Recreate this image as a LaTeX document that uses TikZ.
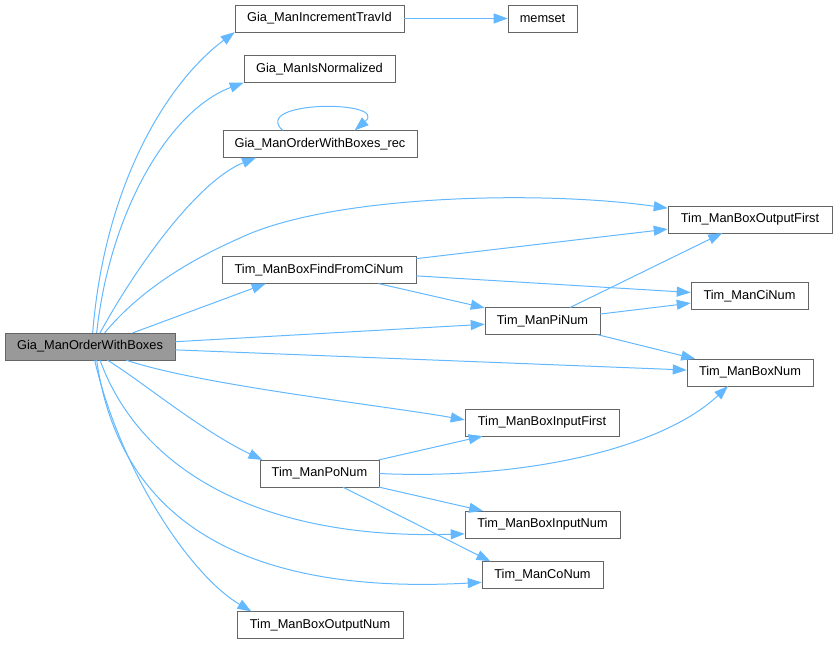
\documentclass[tikz,border=0pt]{standalone}
\usepackage{fontspec}
\setmainfont{Liberation Sans}
\usetikzlibrary{arrows.meta}
\definecolor{edgeblue}{RGB}{99,184,255}
\definecolor{boxgray}{RGB}{102,102,102}
\definecolor{mainfill}{RGB}{153,153,153}

\begin{document}
\begin{tikzpicture}[x=0.75pt,y=-0.75pt,
   fn/.style={draw=boxgray,fill=white,minimum height=20pt,inner sep=0pt,
     font=\fontsize{9.6}{11}\selectfont},
   call/.style={draw=edgeblue,line width=0.75pt,-{Triangle[length=10.5pt,width=7.5pt]}}]
   \useasboundingbox (0,0) rectangle (837,644);
   % caller
   \node[fn,fill=mainfill,minimum width=127.5pt] (main) at (90,346.5) {Gia\_ManOrderWithBoxes};
   % first column
   \node[fn,minimum width=126.75pt] (incr) at (319.5,18.5) {Gia\_ManIncrementTravId};
   \node[fn,minimum width=113.25pt] (isnorm) at (319.5,69) {Gia\_ManIsNormalized};
   \node[fn,minimum width=145.5pt] (rec) at (320,144) {Gia\_ManOrderWithBoxes\_rec};
   \node[fn,minimum width=145.5pt] (find) at (319,270) {Tim\_ManBoxFindFromCiNum};
   \node[fn,minimum width=89.25pt] (ponum) at (319.5,473.5) {Tim\_ManPoNum};
   \node[fn,minimum width=124.5pt] (outnum) at (320,625) {Tim\_ManBoxOutputNum};
   % second column
   \node[fn,minimum width=51.75pt] (memset) at (542.5,18.5) {memset};
   \node[fn,minimum width=86.25pt] (pinum) at (542.5,321) {Tim\_ManPiNum};
   \node[fn,minimum width=115.5pt] (infirst) at (542,422.5) {Tim\_ManBoxInputFirst};
   \node[fn,minimum width=116.25pt] (innum) at (542.5,524.5) {Tim\_ManBoxInputNum};
   \node[fn,minimum width=90.75pt] (conum) at (542.5,575) {Tim\_ManCoNum};
   % third column
   \node[fn,minimum width=123pt] (outfirst) at (750,219.5) {Tim\_ManBoxOutputFirst};
   \node[fn,minimum width=87.75pt] (cinum) at (749.5,296) {Tim\_ManCiNum};
   \node[fn,minimum width=94.5pt] (boxnum) at (750,372.5) {Tim\_ManBoxNum};

   % calls of the caller, upwards
   \draw[call] ([xshift=2pt]main.north) .. controls (105,180) and (170,80) .. (incr.south west);
   \draw[call] ([xshift=5pt]main.north) .. controls (110,210) and (170,110) .. (isnorm.south west);
   \draw[call] ([xshift=7.5pt]main.north) .. controls (140,260) and (200,180) .. ([xshift=25pt]rec.south west);
   \draw[call] ([xshift=11pt]main.north) .. controls (140,290) and (190,260) .. (240,238)
      .. controls (330,195) and (540,190) .. ([yshift=8.5pt]outfirst.west);
   \draw[call] ([xshift=32pt]main.north) -- ([xshift=-40pt]find.south);
   \draw[call] (main) -- (pinum);
   \draw[call] (main) -- (boxnum);
   % calls of the caller, downwards
   \draw[call] ([xshift=27pt]main.south) .. controls (200,385) and (380,405) .. ([yshift=2pt]infirst.west);
   \draw[call] ([xshift=13pt]main.south) .. controls (140,380) and (200,430) .. ([xshift=2pt]ponum.north west);
   \draw[call] ([xshift=7.5pt]main.south) .. controls (140,470) and (260,540) .. ([yshift=-7pt]innum.west);
   \draw[call] ([xshift=5pt]main.south) .. controls (120,525) and (250,595) .. ([yshift=-5.5pt]conum.west);
   \draw[call] ([xshift=3.5pt]main.south) .. controls (120,470) and (190,575) .. ([xshift=11pt]outnum.north west);
   % self call
   \draw[call] ([xshift=-28pt]rec.north) .. controls (250,100) and (390,100) .. ([xshift=26pt]rec.north);
   % further calls
   \draw[call] (incr) -- (memset);
   \draw[call] (find) -- (outfirst);
   \draw[call] (find) -- (cinum);
   \draw[call] (find) -- (pinum);
   \draw[call] (pinum) -- (outfirst);
   \draw[call] (pinum) -- (cinum);
   \draw[call] (pinum) -- (boxnum);
   \draw[call] (ponum) -- (infirst);
   \draw[call] (ponum.east) .. controls (520,480) and (660,450) .. ([xshift=-16.5pt]boxnum.south);
   \draw[call] (ponum) -- (innum);
   \draw[call] ([xshift=17.5pt]ponum.south) -- ([xshift=-39pt]conum.north);
\end{tikzpicture}
\end{document}
